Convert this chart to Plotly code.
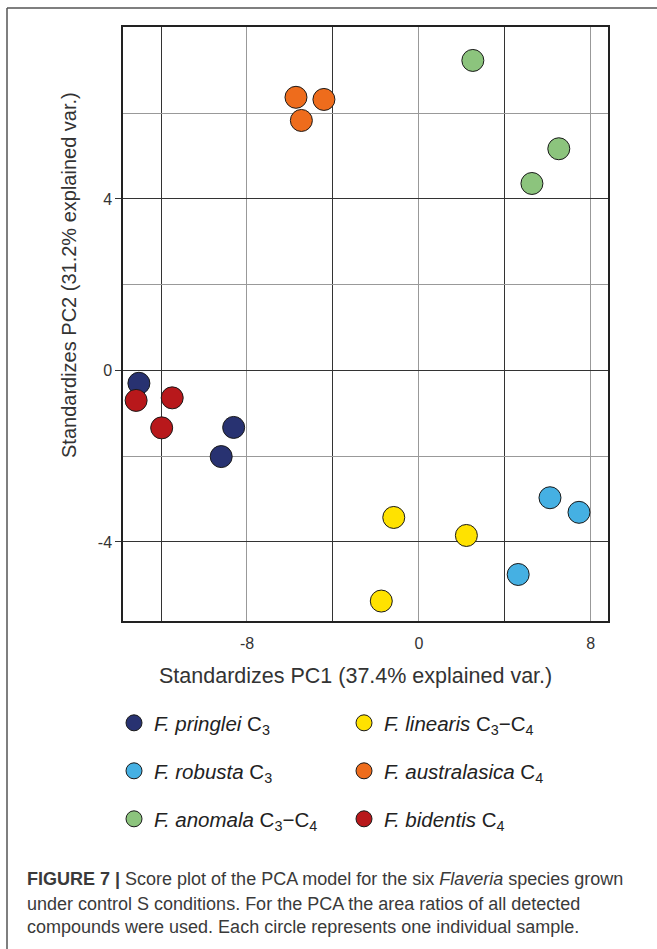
import plotly.graph_objects as go

# Data
species = ["F. pringlei", "F. linearis", "F. robusta", "F. australasica", "F. anomala", "F. bidentis"]
suffix = ["C<sub>3</sub>", "C<sub>3</sub>−C<sub>4</sub>", "C<sub>3</sub>", "C<sub>4</sub>", "C<sub>3</sub>−C<sub>4</sub>", "C<sub>4</sub>"]
colors = ["#283271", "#ffe200", "#45b0e3", "#ee6c1c", "#8cc47d", "#b8181b"]

pringlei_pc1 = [-13.03, -8.62, -9.20]
pringlei_pc2 = [-0.30, -1.33, -2.01]
linearis_pc1 = [-1.17, 2.21, -1.75]
linearis_pc2 = [-3.43, -3.85, -5.38]
robusta_pc1 = [6.10, 7.45, 4.62]
robusta_pc2 = [-2.97, -3.31, -4.76]
australasica_pc1 = [-5.72, -4.42, -5.47]
australasica_pc2 = [6.37, 6.32, 5.83]
anomala_pc1 = [2.51, 6.51, 5.26]
anomala_pc2 = [7.23, 5.17, 4.36]
bidentis_pc1 = [-13.16, -11.48, -11.97]
bidentis_pc2 = [-0.70, -0.64, -1.34]

x_ticks = [-8, 0, 8]
x_tick_labels = ["-8", "0", "8"]
y_ticks = [-4, 0, 4]
y_tick_labels = ["-4", "0", "4"]

pc1 = [pringlei_pc1, linearis_pc1, robusta_pc1, australasica_pc1, anomala_pc1, bidentis_pc1]
pc2 = [pringlei_pc2, linearis_pc2, robusta_pc2, australasica_pc2, anomala_pc2, bidentis_pc2]
legend_ids = ["legend", "legend", "legend2", "legend2", "legend3", "legend3"]

FONT = "Liberation Sans, Arial, Helvetica, sans-serif"
W, H = 657, 949
L, R, T, B = 123, 49, 27, 328
PW, PH = W - L - R, H - T - B


def px_x(px):
    return (px - L) / PW


def px_y(py):
    return (H - B - py) / PH


fig = go.Figure()
for i in range(len(species)):
    fig.add_trace(go.Scatter(
        x=pc1[i], y=pc2[i], mode="markers",
        name=f"<i>{species[i]}</i> {suffix[i]}",
        legend=legend_ids[i],
        marker=dict(size=22, color=colors[i], line=dict(color="#1a1a1a", width=1)),
        cliponaxis=False,
    ))

legend_common = dict(
    orientation="h", xanchor="left", yanchor="middle",
    font=dict(family=FONT, size=20.5, color="#222"),
    bgcolor="rgba(0,0,0,0)", entrywidth=185, entrywidthmode="pixels",
    itemsizing="trace", traceorder="normal",
)

fig.update_layout(
    width=W, height=H,
    margin=dict(l=L, r=R, t=T, b=B),
    paper_bgcolor="white", plot_bgcolor="white",
    font=dict(family=FONT, color="#333"),
    showlegend=True,
    legend=dict(x=px_x(114), y=px_y(723), **legend_common),
    legend2=dict(x=px_x(114), y=px_y(771), **legend_common),
    legend3=dict(x=px_x(114), y=px_y(819), **legend_common),
    xaxis=dict(
        range=[-13.77, 8.80], tickmode="array", tickvals=x_ticks, ticktext=x_tick_labels,
        showgrid=True, gridcolor="#999", gridwidth=1,
        minor=dict(tickmode="linear", dtick=4, tick0=0, showgrid=True, gridcolor="#333", gridwidth=1.2),
        zeroline=False, showline=True, linecolor="#222", linewidth=1.5, mirror=True,
        ticks="", ticklabelstandoff=7,
        tickfont=dict(family=FONT, size=16, color="#333"),
    ),
    yaxis=dict(
        range=[-5.845, 8.01], tickmode="array", tickvals=y_ticks, ticktext=y_tick_labels,
        showgrid=True, gridcolor="#333", gridwidth=1.2,
        minor=dict(tickmode="linear", dtick=2, tick0=0, showgrid=True, gridcolor="#999", gridwidth=1),
        zeroline=False, showline=True, linecolor="#222", linewidth=1.5, mirror=True,
        ticks="outside", ticklen=6, tickcolor="#333", tickwidth=1,
        tickfont=dict(family=FONT, size=16, color="#333"),
    ),
)

# Axis titles (placed as in the reference, the y title sits above the plot centre)
fig.add_annotation(text="Standardizes PC1 (37.4% explained var.)", xref="paper", yref="paper",
                   x=px_x(355), y=px_y(676), xanchor="center", yanchor="middle", showarrow=False,
                   font=dict(family=FONT, size=21.5, color="#333"))
fig.add_annotation(text="Standardizes PC2 (31.2% explained var.)", xref="paper", yref="paper",
                   x=px_x(69), y=px_y(275), xanchor="center", yanchor="middle", showarrow=False,
                   textangle=-90, font=dict(family=FONT, size=20, color="#333"))

# Figure frame (top and left border lines)
frame = dict(type="line", xref="paper", yref="paper", line=dict(color="#555", width=1.5))
fig.add_shape(x0=px_x(7), x1=px_x(657), y0=px_y(8), y1=px_y(8), **frame)
fig.add_shape(x0=px_x(7), x1=px_x(7), y0=px_y(8), y1=px_y(949), **frame)

caption_lines = [
    "<b>FIGURE 7 |</b> Score plot of the PCA model for the six <i>Flaveria</i> species grown",
    "under control S conditions. For the PCA the area ratios of all detected",
    "compounds were used. Each circle represents one individual sample.",
]
caption_y = [879, 904, 927]
for txt, yy in zip(caption_lines, caption_y):
    fig.add_annotation(text=txt, xref="paper", yref="paper", x=px_x(25), y=px_y(yy),
                       xanchor="left", yanchor="middle", showarrow=False,
                       font=dict(family=FONT, size=18, color="#3a3a3a"))

fig.write_html("out.html", config={"displayModeBar": False},
               post_script="document.body.style.margin='0';")
